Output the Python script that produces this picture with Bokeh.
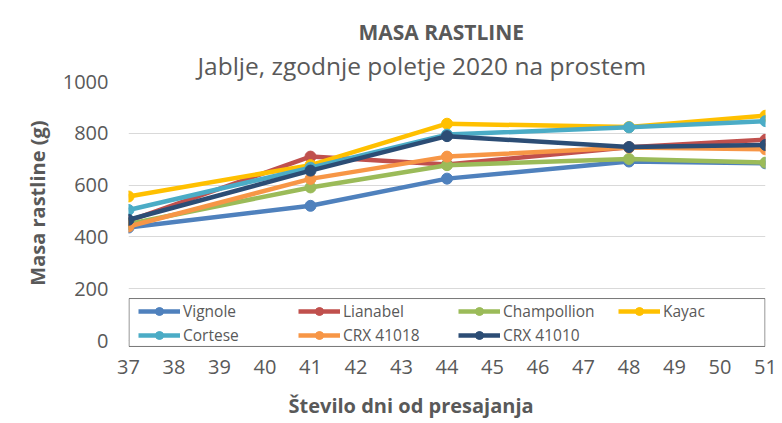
from bokeh.plotting import figure
from bokeh.models import Legend, LegendItem, Title, Range1d, SingleIntervalTicker
from bokeh.embed import file_html
from bokeh.resources import INLINE

days = [37, 41, 44, 48, 51]
vignole = [436, 520, 625, 691, 684]
lianabel = [462, 710, 680, 746, 775]
champollion = [450, 591, 677, 701, 687]
kayac = [556, 677, 837, 824, 868]
cortese = [504, 667, 795, 823, 847]
crx41018 = [440, 624, 710, 745, 738]
crx41010 = [466, 656, 789, 747, 755]

series_names = ["Vignole", "Lianabel", "Champollion", "Kayac", "Cortese", "CRX 41018", "CRX 41010"]
series_values = [vignole, lianabel, champollion, kayac, cortese, crx41018, crx41010]
colors = ["#4f81bd", "#c0504d", "#9bbb59", "#ffc000", "#4bacc6", "#f79646", "#2c4d75"]

FONT = "Open Sans"
TXT = "#595959"

X_START, X_END = 37, 51
Y_START, Y_END = -38.6, 1000   # a little room below 0 for the legend box

p = figure(width=780, height=418, output_backend="svg", toolbar_location=None,
           title=None,
           x_range=Range1d(X_START, X_END), y_range=Range1d(Y_START, Y_END),
           min_border_left=128, min_border_right=15, min_border_top=81, min_border_bottom=60)
p.outline_line_color = None
p.background_fill_color = "white"
p.border_fill_color = "white"

p.xaxis.ticker = SingleIntervalTicker(interval=1)
p.yaxis.ticker = SingleIntervalTicker(interval=200)
p.xgrid.visible = False
p.ygrid.grid_line_color = "#d9d9d9"
p.ygrid.grid_line_width = 1

for ax in (p.xaxis, p.yaxis):
    ax.major_tick_line_color = None
    ax.minor_tick_line_color = None
    ax.major_tick_out = 0
    ax.major_tick_in = 0
    ax.minor_tick_out = 0
    ax.axis_line_color = None
    ax.major_label_text_font = FONT
    ax.major_label_text_font_size = "20px"
    ax.major_label_text_color = TXT
p.yaxis.major_label_standoff = 20
p.xaxis.major_label_standoff = 9
# invisible spacer label below the x tick labels
p.xaxis.axis_label = " "
p.xaxis.axis_label_text_font_size = "8px"
p.xaxis.axis_label_standoff = 1

# legend box (white fill with grey frame), drawn as a polygon under the legend
LB_X0, LB_X1 = X_START + 0.011, X_END - 0.011
LB_Y0, LB_Y1 = -23, 162
p.patch(x=[LB_X0, LB_X1, LB_X1, LB_X0], y=[LB_Y0, LB_Y0, LB_Y1, LB_Y1],
        fill_color="white", fill_alpha=1, line_color="#767676", line_width=1)

items = []
for name, vals, col in zip(series_names, series_values, colors):
    lr = p.line(days, vals, line_color=col, line_width=4.5)
    sr = p.scatter(days, vals, marker="circle", size=11, fill_color=col, line_color=col)
    items.append(LegendItem(label=name, renderers=[lr, sr]))

legend = Legend(items=items, location=(10, 4), orientation="horizontal", ncols=4,
                glyph_width=42, glyph_height=20, label_height=22, label_width=113,
                label_standoff=3, spacing=2, padding=1, margin=0,
                label_text_font=FONT, label_text_font_size="15.5px", label_text_color=TXT,
                border_line_color=None,
                background_fill_color=None, background_fill_alpha=0)
p.add_layout(legend)

sub = Title(text="Jablje, zgodnje poletje 2020 na prostem", align="left", offset=69,
            text_font=FONT, text_font_size="24.5px", text_font_style="normal",
            text_color=TXT, standoff=0)
p.add_layout(sub, "above")
main = Title(text="MASA RASTLINE", align="left", offset=230,
             text_font=FONT, text_font_size="21px", text_font_style="bold",
             text_color=TXT, standoff=2)
p.add_layout(main, "above")

xt = Title(text="Število dni od presajanja", align="left", offset=160,
           text_font=FONT, text_font_size="20px", text_font_style="bold",
           text_color=TXT, standoff=0)
p.add_layout(xt, "below")

yt = Title(text="Masa rastline (g)", align="right", offset=39,
           text_font=FONT, text_font_size="20px", text_font_style="bold",
           text_color=TXT, standoff=18)
p.add_layout(yt, "left")

open("out.html", "w").write(file_html(p, INLINE))
